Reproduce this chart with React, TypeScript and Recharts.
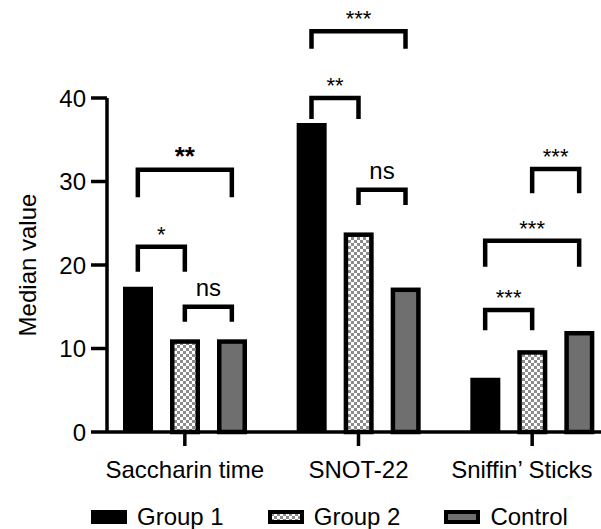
import React from 'react';
import { BarChart, Bar, XAxis, YAxis, ReferenceLine, Legend } from 'recharts';

// ---------- data ----------
const categories = ['Saccharin time', 'SNOT-22', 'Sniffin’ Sticks'];
const group1 = [17.4, 37.0, 6.5];
const group2 = [11.1, 23.9, 9.8];
const control = [11.1, 17.3, 12.1];
const seriesKeys = ['g1', 'g2', 'ctrl'];
const seriesNames = ['Group 1', 'Group 2', 'Control'];
const yTicks = [0, 10, 20, 30, 40];

// significance brackets (bar index inside a category: 0 = Group 1, 1 = Group 2, 2 = Control)
const bracketCategory = [0, 0, 0, 1, 1, 1, 2, 2, 2];
const bracketFrom = [0, 1, 0, 0, 0, 1, 0, 0, 1];
const bracketTo = [1, 2, 2, 1, 2, 2, 1, 2, 2];
const bracketTop = [22.2, 15.0, 31.4, 40.0, 48.0, 29.0, 14.6, 22.9, 31.5];
const bracketLegEnd = [19.2, 13.2, 28.1, 37.5, 45.9, 27.2, 12.2, 19.8, 28.6];
const bracketLabel = ['*', 'ns', '**', '**', '***', 'ns', '***', '***', '***'];

const data = categories.map((name, i) => ({
  name,
  g1: group1[i],
  g2: group2[i],
  ctrl: control[i],
}));

// ---------- layout / style ----------
const W = 601;
const H = 529;
const PLOT_LEFT = 107;
const PLOT_TOP = 98;
const PLOT_BOTTOM = 432;
const XAXIS_H = 60;
const PAD_L = -9;
const PAD_R = -18;
const BAR_SIZE = 30;
const BAR_GAP = 17;
const BAR_STEP = BAR_SIZE + BAR_GAP;
const FONT = "'Liberation Sans', Arial, Helvetica, sans-serif";
const BORDER = 4.5;
const CONTROL_FILL = '#6f6f6f';
const BOLD_BRACKETS = new Set([2]);

let measureCtx: CanvasRenderingContext2D | null = null;
const measure = (text: string, size: number) => {
  if (typeof document === 'undefined') return text.length * size * 0.55;
  if (!measureCtx) measureCtx = document.createElement('canvas').getContext('2d');
  if (!measureCtx) return text.length * size * 0.55;
  measureCtx.font = `${size}px ${FONT}`;
  return measureCtx.measureText(text).width;
};

const CategoryTick = (p: any) => {
  const { x, y, payload } = p;
  const size = 24;
  const w = measure(String(payload.value), size);
  const cx = Math.min(x, W - 8 - w / 2);
  return (
    <text x={cx} y={y} dy="0.71em" textAnchor="middle" fontFamily={FONT} fontSize={size} fill="#000">
      {payload.value}
    </text>
  );
};

const BorderedBar = (p: any) => {
  const { x, y, width, height, fill } = p;
  if (!height || height <= 0) return null;
  return (
    <rect
      x={x + BORDER / 2}
      y={y + BORDER / 2}
      width={width - BORDER}
      height={height - BORDER / 2}
      fill={fill}
      stroke="#000"
      strokeWidth={BORDER}
    />
  );
};

const makeBracket = (label: string, from: number, to: number, bold: boolean) => (p: any) => {
  const { x1, y1, y2 } = p;
  const xa = x1 + (from - 1) * BAR_STEP;
  const xb = x1 + (to - 1) * BAR_STEP;
  const yTop = Math.min(y1, y2);
  const yLeg = Math.max(y1, y2);
  const cx = (xa + xb) / 2;
  const isNs = label === 'ns';
  return (
    <g>
      <path d={`M${xa},${yLeg}V${yTop}H${xb}V${yLeg}`} fill="none" stroke="#000" strokeWidth={4.5} />
      <text
        x={cx}
        y={isNs ? yTop - 11 : yTop - 5}
        textAnchor="middle"
        fontFamily={FONT}
        fontSize={isNs ? 24 : bold ? 26 : 22}
        fontWeight={bold ? 'bold' : 'normal'}
        fill="#000"
      >
        {label}
      </text>
    </g>
  );
};

const YLabel = (props: any) => {
  const vb = props.viewBox || { x: 0, y: PLOT_TOP, width: PLOT_LEFT, height: PLOT_BOTTOM - PLOT_TOP };
  const cx = vb.x + 36;
  const cy = vb.y + vb.height / 2;
  return (
    <text
      x={cx}
      y={cy}
      transform={`rotate(-90, ${cx}, ${cy})`}
      textAnchor="middle"
      fontFamily={FONT}
      fontSize={24}
      fill="#000"
    >
      Median value
    </text>
  );
};

const Swatch = ({ k }: { k: string }) => {
  if (k === 'g1') return <rect x={0} y={0} width={36} height={14} fill="#000" />;
  const fill = k === 'g2' ? 'url(#checker)' : CONTROL_FILL;
  return <rect x={2} y={2} width={32} height={10} fill={fill} stroke="#000" strokeWidth={4} />;
};

const renderLegend = (props: any) => {
  const payload = [...(props.payload || [])].sort(
    (a: any, b: any) => seriesKeys.indexOf(String(a.dataKey)) - seriesKeys.indexOf(String(b.dataKey))
  );
  return (
    <div
      style={{
        display: 'flex',
        alignItems: 'center',
        paddingLeft: 91,
        gap: 44,
        height: 24,
        fontFamily: FONT,
        fontSize: 24,
        lineHeight: '24px',
        color: '#000',
      }}
    >
      {payload.map((entry: any) => (
        <div key={String(entry.dataKey)} style={{ display: 'flex', alignItems: 'center' }}>
          <svg width={36} height={14} style={{ display: 'block' }}>
            <Swatch k={String(entry.dataKey)} />
          </svg>
          <span style={{ marginLeft: 10, whiteSpace: 'nowrap' }}>{entry.value}</span>
        </div>
      ))}
    </div>
  );
};

export default function App() {
  const fills = ['#000', 'url(#checker)', CONTROL_FILL];
  return (
    <div style={{ position: 'absolute', left: 0, top: 0, width: W, height: H, overflow: 'hidden', background: '#fff' }}>
      <svg width={0} height={0} style={{ position: 'absolute' }}>
        <defs>
          <pattern id="checker" width={6} height={6} patternUnits="userSpaceOnUse">
            <rect width={6} height={6} fill="#fff" />
            <rect x={0} y={0} width={3} height={3} fill="#8c8c8c" />
            <rect x={3} y={3} width={3} height={3} fill="#8c8c8c" />
          </pattern>
        </defs>
      </svg>
      <BarChart
        width={W}
        height={H}
        data={data}
        margin={{ top: PLOT_TOP, right: 0, bottom: H - PLOT_BOTTOM - XAXIS_H, left: 0 }}
        barSize={BAR_SIZE}
        barGap={BAR_GAP}
      >
        <XAxis
          dataKey="name"
          height={XAXIS_H}
          padding={{ left: PAD_L, right: PAD_R }}
          axisLine={{ stroke: '#000', strokeWidth: 3.5 }}
          tickLine={{ stroke: '#000', strokeWidth: 3.5 }}
          tickSize={14}
          tickMargin={15}
          interval={0}
          tick={<CategoryTick />}
        />
        <YAxis
          width={PLOT_LEFT}
          domain={[0, 40]}
          ticks={yTicks}
          interval={0}
          axisLine={{ stroke: '#000', strokeWidth: 3.5 }}
          tickLine={{ stroke: '#000', strokeWidth: 3.5 }}
          tickSize={16}
          tickMargin={5}
          tick={{ fill: '#000', fontSize: 24, fontFamily: FONT }}
          label={<YLabel />}
        />
        {seriesKeys.map((k, i) => (
          <Bar
            key={k}
            dataKey={k}
            name={seriesNames[i]}
            fill={fills[i]}
            isAnimationActive={false}
            shape={i === 0 ? undefined : BorderedBar}
          />
        ))}
        {bracketLabel.map((lab, i) => {
          const cat = categories[bracketCategory[i]];
          return (
            <ReferenceLine
              key={'br' + i}
              ifOverflow="visible"
              segment={[
                { x: cat, y: bracketLegEnd[i] },
                { x: cat, y: bracketTop[i] },
              ]}
              shape={makeBracket(lab, bracketFrom[i], bracketTo[i], BOLD_BRACKETS.has(i))}
            />
          );
        })}
        <Legend
          layout="horizontal"
          verticalAlign="middle"
          align="center"
          content={renderLegend}
          wrapperStyle={{ top: 505, left: 0, width: W, height: 24 }}
        />
      </BarChart>
    </div>
  );
}
